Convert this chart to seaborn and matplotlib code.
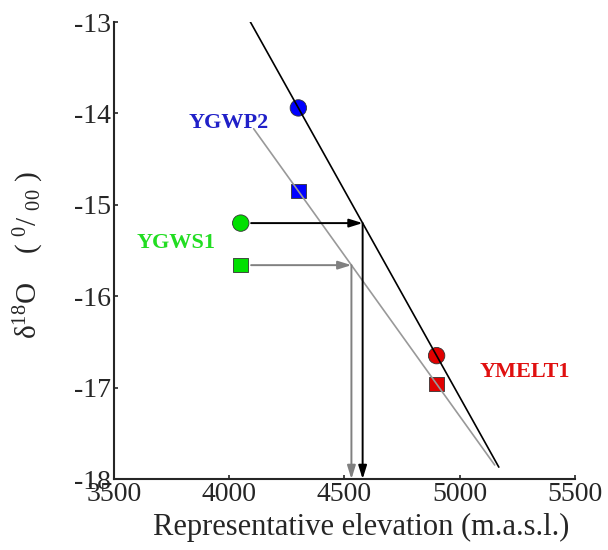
import matplotlib
matplotlib.use("Agg")
import matplotlib.pyplot as plt
import seaborn as sns
import numpy as np
import pandas as pd

# ---- data ----
sites = ["YGWP2", "YGWS1", "YMELT1"]
site_colors = ["#0000ff", "#00e000", "#e00000"]
label_colors = ["#2020c8", "#22dd22", "#e01010"]
elevation = [4300, 4050, 4900]
d18o_circle = [-13.94, -15.20, -16.65]
d18o_square = [-14.85, -15.66, -16.96]
black_line_x = [4080, 5170]
gray_line_x = [4106, 5152]
label_x = [3996, 3770, 5281]
label_y = [-14.105, -15.42, -16.83]
x_ticks = [3500, 4000, 4500, 5000, 5500]
y_ticks = [-18, -17, -16, -15, -14, -13]

sns.set_style("ticks")
plt.rcParams["font.family"] = ["Liberation Serif", "DejaVu Serif"]
plt.rcParams["mathtext.fontset"] = "custom"
plt.rcParams["mathtext.rm"] = "Liberation Serif"
plt.rcParams["mathtext.it"] = "Liberation Serif:italic"
plt.rcParams["mathtext.bf"] = "Liberation Serif:bold"
plt.rcParams["axes.unicode_minus"] = False

fig = plt.figure(figsize=(6.08, 5.5), dpi=100)
ax = fig.add_axes([0.1875, 0.129, 0.758, 0.831])

# fitted lines through YGWP2 and YMELT1
def line_through(ys, xr):
    slope = (ys[2] - ys[0]) / (elevation[2] - elevation[0])
    xr = np.array(xr, dtype=float)
    return xr, ys[0] + slope * (xr - elevation[0]), slope

bx, by, bslope = line_through(d18o_circle, black_line_x)
gx, gy, gslope = line_through(d18o_square, gray_line_x)

sns.lineplot(x=bx, y=by, ax=ax, color="black", lw=1.2, zorder=4)
sns.lineplot(x=gx, y=gy, ax=ax, color="#999999", lw=1.2, zorder=4)

df_c = pd.DataFrame({"x": elevation, "y": d18o_circle, "site": sites})
df_s = pd.DataFrame({"x": elevation, "y": d18o_square, "site": sites})
pal = dict(zip(sites, site_colors))
sns.scatterplot(data=df_c, x="x", y="y", hue="site", palette=pal, marker="o",
                s=140, edgecolor="#333333", linewidth=0.6, ax=ax, legend=False, zorder=3)
sns.scatterplot(data=df_s, x="x", y="y", hue="site", palette=pal, marker="s",
                s=110, edgecolor="#333333", linewidth=0.6, ax=ax, legend=False, zorder=3)

# arrows from YGWS1 samples to the lines then down to the axis
ylow = y_ticks[0]
for yv, sl, col, ref in [(d18o_circle[1], bslope, "black", d18o_circle[0]),
                         (d18o_square[1], gslope, "#808080", d18o_square[0])]:
    xi = elevation[0] + (yv - ref) / sl
    ax.annotate("", xy=(xi, yv), xytext=(elevation[1] + 45, yv),
                arrowprops=dict(arrowstyle="-|>,head_length=0.8,head_width=0.25",
                                color=col, lw=1.4, shrinkA=0, shrinkB=0), zorder=5)
    ax.annotate("", xy=(xi, ylow), xytext=(xi, yv),
                arrowprops=dict(arrowstyle="-|>,head_length=0.8,head_width=0.25",
                                color=col, lw=1.4, shrinkA=0, shrinkB=0), zorder=5)

for s, lx, ly, c in zip(sites, label_x, label_y, label_colors):
    ax.text(lx, ly, s, color=c, fontsize=16, fontweight="bold", ha="center", va="center")

ax.set_xlim(x_ticks[0], x_ticks[-1])
ax.set_ylim(y_ticks[0], y_ticks[-1])
ax.set_xticks(x_ticks)
ax.set_yticks(y_ticks)
ax.tick_params(direction="in", length=3, width=1.2, labelsize=20, pad=2)
for sp in ["top", "right"]:
    ax.spines[sp].set_visible(False)
for sp in ["left", "bottom"]:
    ax.spines[sp].set_linewidth(1.5)
ax.set_xlabel("Representative elevation (m.a.s.l.)", fontsize=22)
ax.xaxis.set_label_coords(0.537, -0.075)
ax.set_ylabel(r"δ$^{18}$O    ( $^{0}$/ $_{00}$ )", fontsize=21)
ax.yaxis.set_label_coords(-0.147, 0.49)

fig.savefig("out.png", dpi=100)
